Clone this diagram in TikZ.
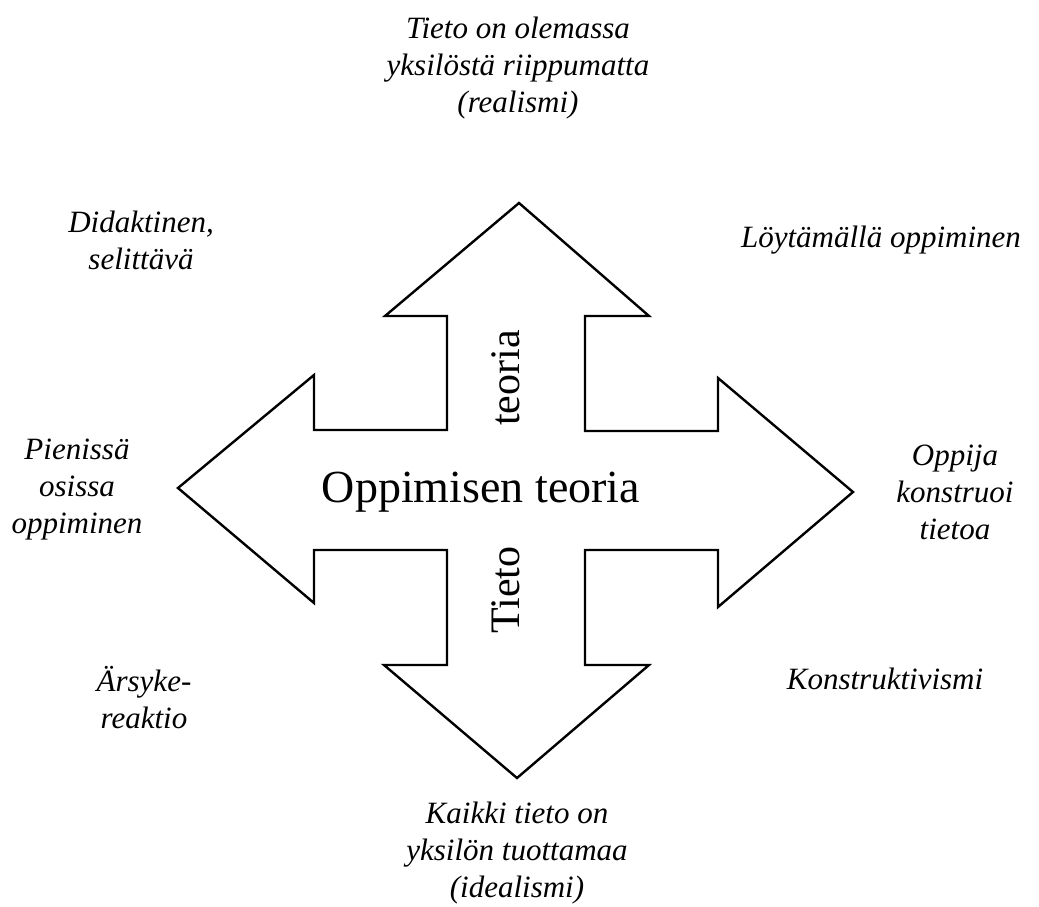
\documentclass[tikz,border=0pt]{standalone}
\usepackage{fontspec}
\setmainfont{Liberation Serif}
\begin{document}
\begin{tikzpicture}[x=1pt,y=-1pt,
  lbl/.style={font=\fontsize{31}{37}\selectfont\itshape, align=center, inner sep=0pt},
  big/.style={font=\fontsize{46}{50}\selectfont, inner sep=0pt},
  side/.style={font=\fontsize{42}{46}\selectfont, inner sep=0pt, rotate=90, anchor=base}]
\useasboundingbox (0,0) rectangle (1039,906);
\draw[line width=2.4pt, line join=miter]
  (519,203) -- (649,316) -- (585,316) -- (585,431) -- (718,431) -- (718,378)
  -- (853,492) -- (718,607) -- (718,550) -- (585,550) -- (585,665) -- (649,665)
  -- (517,778) -- (384,665) -- (447,665) -- (447,550) -- (314,550) -- (314,603)
  -- (178,488) -- (314,375) -- (314,430) -- (447,430) -- (447,316) -- (385,316) -- cycle;
\node[big, anchor=base] (center) at (481,502) {Oppimisen teoria};
\node[side] (teoria) at (519,378) {teoria};
\node[side] (tieto) at (519,590) {Tieto};
\node[lbl] (top) at (518,68) {Tieto on olemassa\\yksilöstä riippumatta\\(realismi)};
\node[lbl] (bottom) at (517,853) {Kaikki tieto on\\yksilön tuottamaa\\(idealismi)};
\node[lbl] (tl) at (141,240) {Didaktinen,\\selittävä};
\node[lbl] (tr) at (881,240) {Löytämällä oppiminen};
\node[lbl] (l) at (77,490) {Pienissä\\osissa\\oppiminen};
\node[lbl] (r) at (955,492) {Oppija\\konstruoi\\tietoa};
\node[lbl] (bl) at (144,698) {Ärsyke-\\reaktio};
\node[lbl] (br) at (885,679) {Konstruktivismi};
\end{tikzpicture}
\end{document}
